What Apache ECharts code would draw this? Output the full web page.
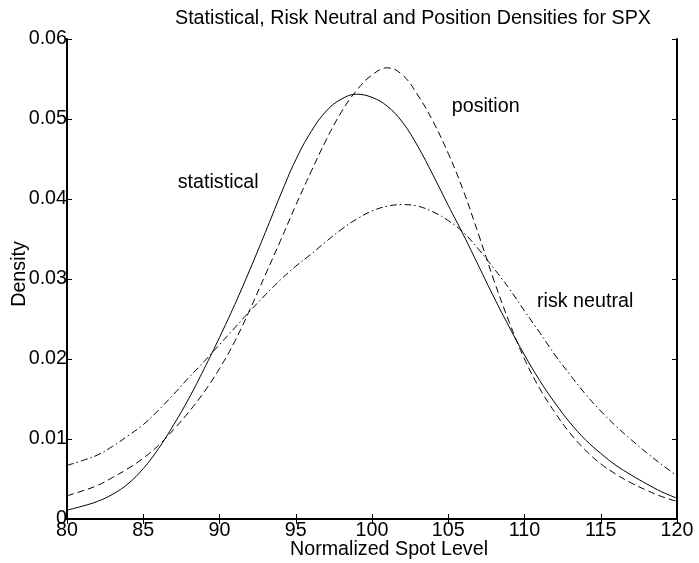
<!DOCTYPE html>
<html>
<head>
<meta charset="utf-8">
<script src="https://cdn.jsdelivr.net/npm/echarts@6/dist/echarts.min.js"></script>
<style>html,body{margin:0;padding:0;background:#fff;}#c{width:699px;height:563px;}</style>
</head>
<body>
<div id="c"></div>
<script>
// Spot levels (x)
const spot = [80,81,82,83,84,85,86,87,88,89,90,91,92,93,94,95,96,97,98,99,100,
  101,102,103,104,105,106,107,108,109,110,111,112,113,114,115,116,117,118,119,120];
// statistical density (solid)
const statistical = [0.0011,0.0016,0.0022,0.0031,0.0044,0.0063,0.0088,0.0118,0.0151,0.0188,0.0227,
  0.0268,0.0312,0.0358,0.0405,0.0449,0.0484,0.0510,0.0525,0.0531,0.0527,
  0.0516,0.0496,0.0466,0.0430,0.0392,0.0355,0.0316,0.0277,0.0240,0.0205,
  0.0173,0.0145,0.0120,0.0099,0.0082,0.0067,0.0055,0.0044,0.0034,0.0026];
// position density (dashed)
const position = [0.0029,0.0035,0.0042,0.0052,0.0063,0.0076,0.0092,0.0112,0.0134,0.0159,0.0188,
  0.0222,0.0262,0.0305,0.0348,0.0392,0.0434,0.0474,0.0509,0.0536,0.0555,
  0.0564,0.0555,0.0530,0.0497,0.0457,0.0410,0.0355,0.0298,0.0246,0.0200,
  0.0163,0.0133,0.0107,0.0086,0.0069,0.0056,0.0045,0.0036,0.0028,0.0022];
// risk neutral density (dash-dot)
const riskNeutral = [0.0067,0.0073,0.0080,0.0091,0.0104,0.0118,0.0136,0.0156,0.0177,0.0197,0.0218,
  0.0239,0.0260,0.0280,0.0299,0.0316,0.0331,0.0347,0.0362,0.0375,0.0385,
  0.0391,0.0393,0.0391,0.0384,0.0373,0.0358,0.0337,0.0313,0.0288,0.0260,
  0.0233,0.0205,0.0180,0.0156,0.0135,0.0116,0.0099,0.0083,0.0068,0.0054];
// axis ticks
const xTicks = [80,85,90,95,100,105,110,115,120];
const yTicks = [0,0.01,0.02,0.03,0.04,0.05,0.06];
// curve labels
const labelTexts = ['statistical','position','risk neutral'];
const labelAnchors = [[87.26,0.0420],[105.23,0.0515],[110.82,0.0272]];

const FONT = '"Liberation Sans", Arial, sans-serif';
const FS = 19.7;
const pairs = ys => spot.map((x,i)=>[x, ys[i]]);

const chart = echarts.init(document.getElementById('c'), null, {renderer:'canvas'});
const axisLine = {show:true, lineStyle:{color:'#000', width:2}};
const tickIn = {show:true, inside:true, length:5, lineStyle:{color:'#000', width:1}};
const option = {
  animation:false,
  backgroundColor:'#fff',
  title:{
    text:'Statistical, Risk Neutral and Position Densities for SPX',
    left:175, top:9, padding:0,
    textStyle:{fontFamily:FONT, fontSize:FS, fontWeight:'normal', color:'#000'}
  },
  grid:{left:67, right:22, top:39, bottom:44, containLabel:false, outerBoundsMode:'none'},
  xAxis:[{
    type:'value', position:'bottom', min:xTicks[0], max:xTicks[xTicks.length-1], interval:5,
    axisLine, axisTick:tickIn, splitLine:{show:false},
    axisLabel:{margin:2, fontFamily:FONT, fontSize:FS, color:'#000'},
    name:'Normalized Spot Level', nameLocation:'middle', nameGap:21, nameMoveOverlap:false,
    nameTextStyle:{fontFamily:FONT, fontSize:FS, color:'#000', padding:[0,0,0,34]}
  },{
    type:'value', position:'top', min:xTicks[0], max:xTicks[xTicks.length-1], interval:5,
    axisLine, axisTick:tickIn, axisLabel:{show:false}, splitLine:{show:false}
  }],
  yAxis:[{
    type:'value', position:'left', min:yTicks[0], max:yTicks[yTicks.length-1], interval:0.01,
    axisLine, axisTick:tickIn, splitLine:{show:false},
    axisLabel:{margin:0, fontFamily:FONT, fontSize:FS, color:'#000',
      formatter:v=>String(+v.toFixed(2))},
    name:'Density', nameLocation:'middle', nameGap:37, nameMoveOverlap:false,
    nameTextStyle:{fontFamily:FONT, fontSize:FS, color:'#000', padding:[0,0,0,10]}
  },{
    type:'value', position:'right', min:yTicks[0], max:yTicks[yTicks.length-1], interval:0.01,
    axisLine, axisTick:tickIn, axisLabel:{show:false}, splitLine:{show:false}
  }],
  series:[
    {name:'statistical', type:'line', data:pairs(statistical), symbol:'none', smooth:0.4,
     lineStyle:{color:'#000', width:1, type:'solid'}},
    {name:'position', type:'line', data:pairs(position), symbol:'none', smooth:0.4,
     lineStyle:{color:'#000', width:1, type:[7,4]}},
    {name:'risk neutral', type:'line', data:pairs(riskNeutral), symbol:'none', smooth:0.4,
     lineStyle:{color:'#000', width:1, type:[7,3,1.5,3]}}
  ]
};
chart.setOption(option);
const graphics = labelTexts.map((t,i)=>{
  const p = chart.convertToPixel({gridIndex:0}, labelAnchors[i]);
  return {type:'text', x:p[0], y:p[1], z:10,
    style:{text:t, fontFamily:FONT, fontSize:FS, fill:'#000', align:'left', verticalAlign:'middle'}};
});
chart.setOption({graphic:graphics});
</script>
</body>
</html>
